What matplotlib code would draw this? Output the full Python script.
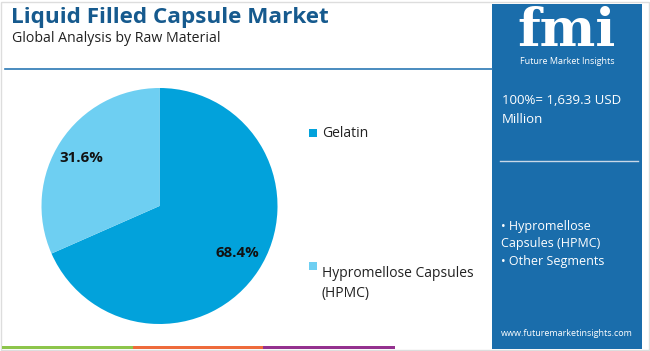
import matplotlib
matplotlib.use("Agg")
import matplotlib.pyplot as plt
import matplotlib.patches as mpatches
import numpy as np

plt.rcParams["font.family"] = ["Open Sans", "DejaVu Sans"]

W, H = 650, 351

# データ
categories = ["Gelatin", "Hypromellose Capsules\n(HPMC)"]
shares = [68.4, 31.6]
colors = ["#02a2db", "#6ecff2"]
total_label = "100%= 1,639.3 USD\nMillion"
side_segments = ["• Hypromellose\nCapsules (HPMC)\n• Other Segments"]
title = "Liquid Filled Capsule Market"
subtitle = "Global Analysis by Raw Material"
website = "www.futuremarketinsights.com"


def fx(x):
    return x / W


def fy(y):
    return 1 - y / H


fig = plt.figure(figsize=(6.5, 3.51), dpi=100)
fig.patch.set_facecolor("white")

# 外枠
fig.patches.append(mpatches.Rectangle((fx(1), fy(350)), fx(648), 348 / H,
                                      transform=fig.transFigure, fill=False,
                                      edgecolor="#dddddd", linewidth=1))

# タイトル
fig.text(fx(11), fy(17), title, fontsize=16.2, fontweight="bold",
         color="#165a8e", va="center", ha="left")
fig.text(fx(12), fy(39), subtitle, fontsize=10.2, color="#222222",
         va="center", ha="left")
fig.add_artist(plt.Line2D([fx(5), fx(492)], [fy(69), fy(69)],
                          transform=fig.transFigure, color="#2b78b4", linewidth=1.2))

# 下のカラーバー
for x0, x1, c in [(2, 133, "#8dc54b"), (133, 263, "#ee6b3b"), (263, 395, "#94318f")]:
    fig.patches.append(mpatches.Rectangle((fx(x0), fy(349)), fx(x1 - x0), 3 / H,
                                          transform=fig.transFigure,
                                          facecolor=c, edgecolor="none"))

# 右パネル
fig.patches.append(mpatches.Rectangle((fx(492), fy(349)), fx(150), 345 / H,
                                      transform=fig.transFigure,
                                      facecolor="#1a6dab", edgecolor="none"))
fig.text(fx(567), fy(32), "fmi", fontsize=38, fontweight="bold", color="white",
         ha="center", va="center", family="DejaVu Serif")
fig.text(fx(567), fy(61), "Future Market Insights", fontsize=6.5, color="white",
         ha="center", va="center")
fig.text(fx(502), fy(110), total_label, fontsize=9.5, color="white",
         ha="left", va="center", linespacing=1.6)
fig.add_artist(plt.Line2D([fx(500), fx(638)], [fy(161), fy(161)],
                          transform=fig.transFigure, color="#c8d8e8", linewidth=1))
fig.text(fx(501), fy(244), side_segments[0], fontsize=9, color="white",
         ha="left", va="center", linespacing=1.45)
fig.text(fx(567), fy(333), website, fontsize=6.5, color="white",
         ha="center", va="center")

# 円グラフ
cx, cy, r = 159.5, 206, 118
ax = fig.add_axes([fx(cx - r), fy(cy + r), fx(2 * r), 2 * r / H])
wedges, _ = ax.pie(shares, colors=colors, startangle=90, counterclock=False,
                   radius=1, wedgeprops=dict(linewidth=0))
ax.set_xlim(-1, 1)
ax.set_ylim(-1, 1)
ax.set_aspect("auto")
ax.axis("off")

label_pos = [(237, 253), (81, 158)]
for s, (px, py) in zip(shares, label_pos):
    fig.text(fx(px), fy(py), f"{s:.1f}%", fontsize=10.8, fontweight="bold",
             color="#111111", ha="center", va="center")

# 凡例
legend_y = [133, 266]
for cat, c, ly in zip(categories, colors, legend_y):
    fig.patches.append(mpatches.Rectangle((fx(309), fy(ly + 4)), fx(8), 8 / H,
                                          transform=fig.transFigure,
                                          facecolor=c, edgecolor="none"))
    fig.text(fx(322), fy(ly), cat, fontsize=10, color="#222222",
             ha="left", va="top" if "\n" in cat else "center",
             linespacing=1.45)

fig.savefig("out.png", dpi=100)
